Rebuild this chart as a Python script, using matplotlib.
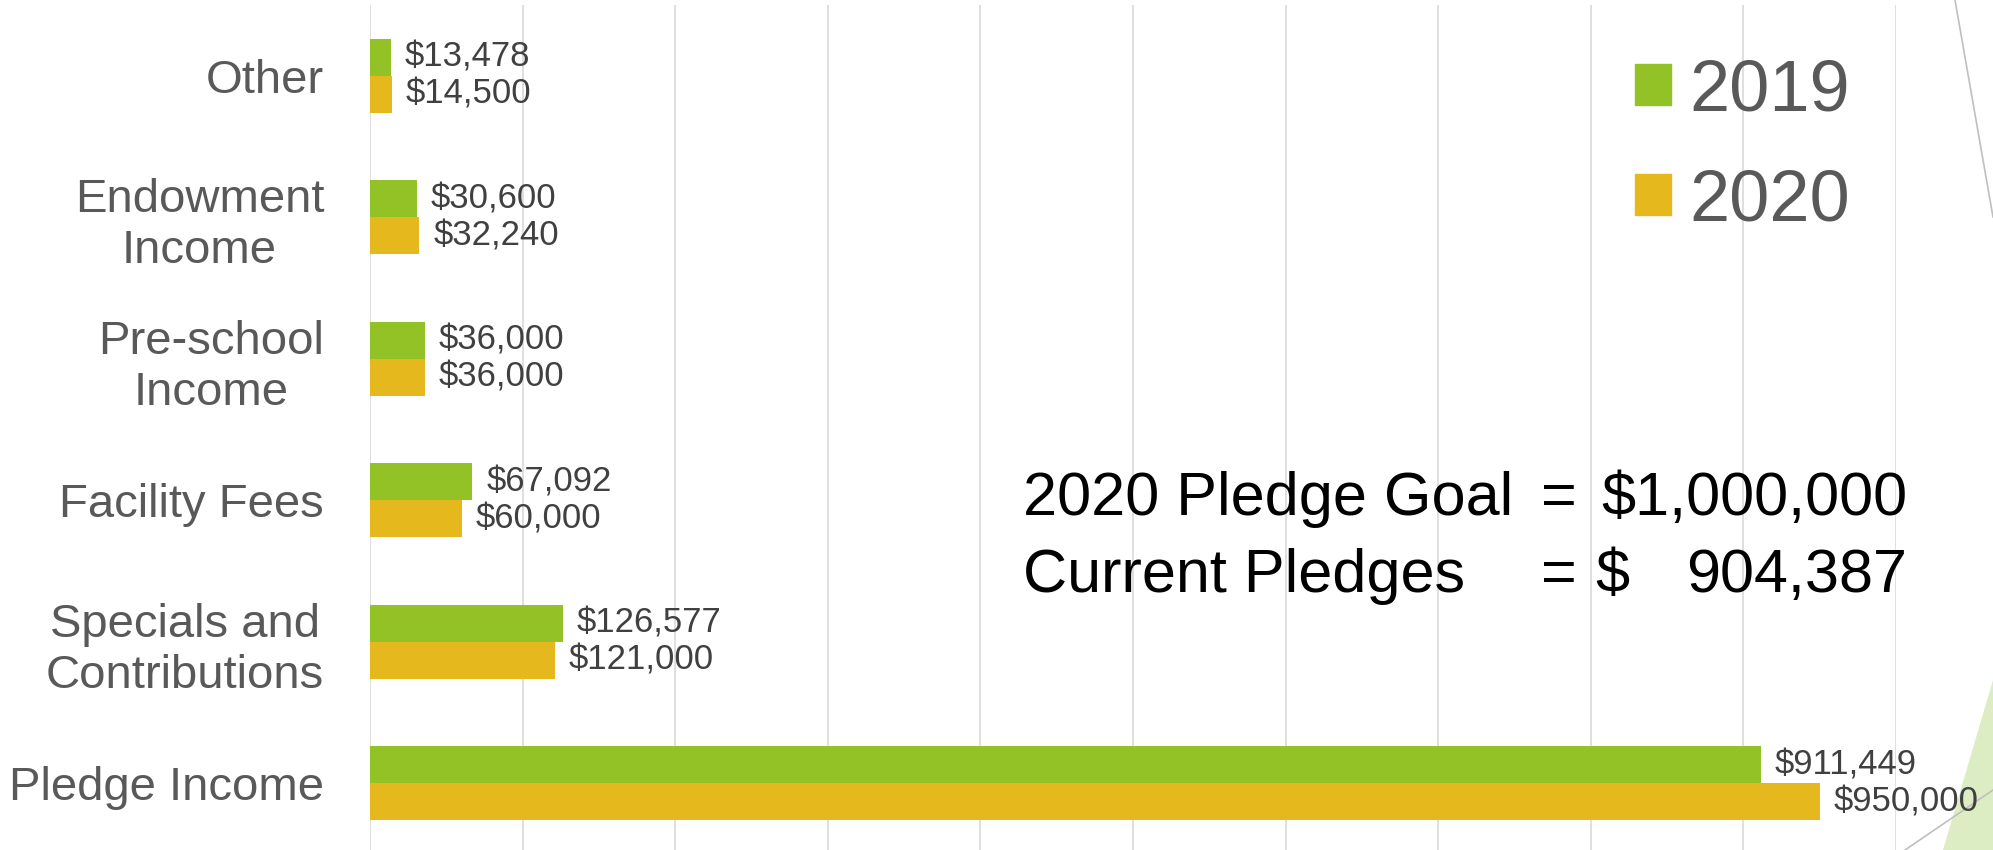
import matplotlib
matplotlib.use("Agg")
import matplotlib.pyplot as plt
from matplotlib.patches import Polygon, Patch
from matplotlib.lines import Line2D
import numpy as np

plt.rcParams['font.family'] = ['Liberation Sans', 'DejaVu Sans']

categories = ["Other", "Endowment\nIncome", "Pre-school\nIncome", "Facility Fees",
              "Specials and\nContributions", "Pledge Income"]
values_2019 = [13478, 30600, 36000, 67092, 126577, 911449]
values_2020 = [14500, 32240, 36000, 60000, 121000, 950000]
series_names = ["2019", "2020"]
goal_labels = ["2020 Pledge Goal", "Current Pledges"]
goal_values = ["$1,000,000", "904,387"]

GREEN = "#92C225"
GOLD = "#E5B91E"
W, H = 1993, 850

fig = plt.figure(figsize=(W / 100, H / 100), dpi=100)
ax = fig.add_axes([370 / W, -4 / H, (1896 - 370) / W, 849 / H])
ax.patch.set_alpha(0)

y = np.arange(len(categories))
bh = 0.26
b1 = ax.barh(y - bh / 2, values_2019, height=bh, color=GREEN, label=series_names[0], zorder=2)
b2 = ax.barh(y + bh / 2, values_2020, height=bh, color=GOLD, label=series_names[1], zorder=2)

for bars, vals in ((b1, values_2019), (b2, values_2020)):
    for rect, v in zip(bars, vals):
        ax.annotate(f"${v:,.0f}", xy=(rect.get_width(), rect.get_y() + rect.get_height() / 2),
                    xytext=(10, 0), textcoords="offset points", va="center", ha="left",
                    fontsize=25, color="#404040", annotation_clip=False, zorder=3)

ax.set_xlim(0, 1000000)
ax.set_ylim(len(categories) - 0.5, -0.5)
ax.set_xticks(np.arange(0, 1000001, 100000))
ax.xaxis.grid(True, color="#D9D9D9", linewidth=1.2, zorder=0)
ax.set_axisbelow(True)
ax.tick_params(axis="x", length=0, labelbottom=False)
ax.set_yticks(y)
ax.set_yticklabels(categories, fontsize=34, color="#595959", multialignment="center",
                   linespacing=1.2)
ax.tick_params(axis="y", length=0, pad=33)
for s in ax.spines.values():
    s.set_visible(False)

leg = fig.legend(handles=[Patch(color=GREEN), Patch(color=GOLD)], labels=series_names,
                 loc="upper left", bbox_to_anchor=(1599 / W, 1 - 22 / H),
                 frameon=False, fontsize=52, labelcolor="#595959",
                 handlelength=0.5, handleheight=0.5, handletextpad=0.25,
                 labelspacing=0.6, borderpad=0)

# goal text block
def fx(px):
    return px / W

def fy(py):
    return 1 - py / H

for i, (label, num) in enumerate(zip(goal_labels, goal_values)):
    base = 515 + i * 77
    kw = dict(fontsize=44, color="black", va="baseline")
    fig.text(fx(1023), fy(base), label, ha="left", **kw)
    fig.text(fx(1541), fy(base), "=", ha="left", **kw)
    if not num.startswith("$"):
        fig.text(fx(1595), fy(base), "$", ha="left", **kw)
    fig.text(fx(1907), fy(base), num, ha="right", **kw)

# theme decorations
fig.add_artist(Polygon([[fx(1943), fy(850)], [fx(1993), fy(680)], [fx(1993), fy(850)]],
                       closed=True, transform=fig.transFigure, facecolor="#DCEDC3",
                       edgecolor="none", zorder=-1))
fig.add_artist(Line2D([fx(1955), fx(1993)], [fy(0), fy(217)], transform=fig.transFigure,
                      color="#BFBFBF", linewidth=1.2, zorder=-1))
fig.add_artist(Line2D([fx(1905), fx(1993)], [fy(850), fy(790)], transform=fig.transFigure,
                      color="#BFBFBF", linewidth=1.2, zorder=-1))

fig.savefig("out.png", dpi=100)
